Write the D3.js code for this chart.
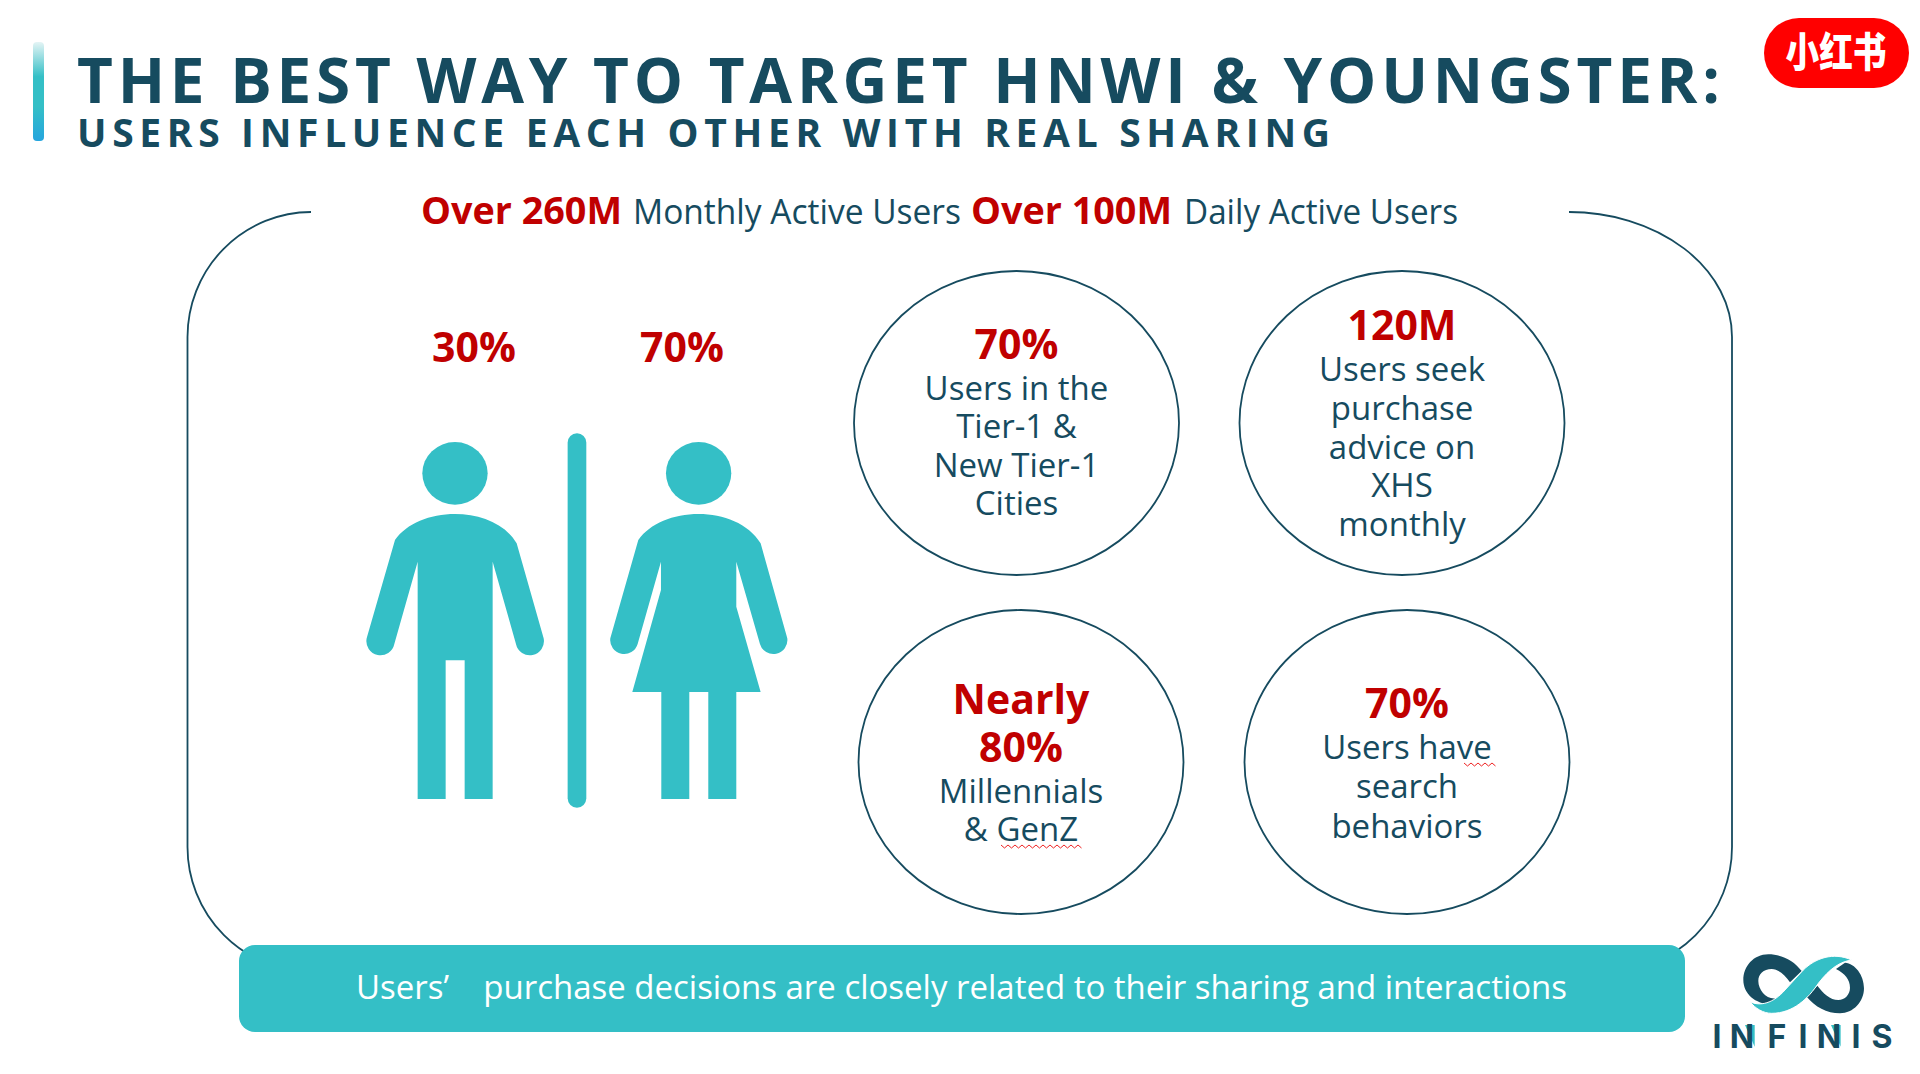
<!DOCTYPE html>
<html>
<head>
<meta charset="utf-8">
<style>
  html, body { margin: 0; padding: 0; background: #fff; }
  svg { display: block; }
  text { font-family: "Open Sans", sans-serif; }
</style>
<script src="https://cdn.jsdelivr.net/npm/d3@7"></script>
</head>
<body>
<svg width="1920" height="1074"></svg>
<script>
"use strict";

// text and figures
const titleLine = "THE BEST WAY TO TARGET HNWI & YOUNGSTER:";
const subtitleLine = "USERS INFLUENCE EACH OTHER WITH REAL SHARING";
const reachText = ["Over 260M", "Monthly Active Users", "Over 100M", "Daily Active Users"];
const genderShares = ["30%", "70%"];
const calloutLeads = [["70%"], ["120M"], ["Nearly", "80%"], ["70%"]];
const calloutBodies = [
    ["Users in the", "Tier-1 &", "New Tier-1", "Cities"],
    ["Users seek", "purchase", "advice on", "XHS", "monthly"],
    ["Millennials", "& GenZ"],
    ["Users have", "search", "behaviors"]
];
const footerText = "Users’    purchase decisions are closely related to their sharing and interactions";
const brandLetters = ["I", "N", "F", "I", "N", "I", "S"];

// layout, kept apart from the values
const teal = "#34bfc6", navy = "#164b5f", red = "#c00000";
const reachX = [[421, 622], [633, 961], [971, 1172], [1184, 1458]];
const genderX = [474, 682];
const calloutCx = [1016.5, 1402, 1021, 1407];
const calloutCy = [423, 423, 762, 762];
const calloutBaselines = [
    [359, 400, 438, 477, 515],
    [340, 381, 420, 459, 497, 536],
    [714, 762, 803, 841],
    [718, 759, 798, 838]
];
const brandX = [1717, 1742, 1777, 1803, 1829, 1856, 1882];
const squiggles = [[1001, 1084, 846], [1464, 1498, 764]];

const svg = d3.select("svg");

// accent bar
const grad = svg.append("defs").append("linearGradient")
    .attr("id", "bar").attr("x1", 0).attr("x2", 0).attr("y1", 0).attr("y2", 1);
grad.selectAll("stop")
    .data([[0, "#e4f4f5"], [0.35, teal], [0.65, teal], [1, "#25a5de"]])
    .join("stop")
    .attr("offset", d => d[0])
    .attr("stop-color", d => d[1]);
svg.append("rect")
    .attr("x", 33).attr("y", 42).attr("width", 11).attr("height", 99).attr("rx", 4)
    .attr("fill", "url(#bar)");

// titles
svg.append("text").attr("x", 77).attr("y", 103)
    .attr("font-size", 62).attr("font-weight", 700).attr("fill", navy)
    .attr("textLength", 1643)
    .text(titleLine);
svg.append("text").attr("x", 77).attr("y", 147)
    .attr("font-size", 39).attr("font-weight", 700).attr("fill", navy)
    .attr("textLength", 1253)
    .text(subtitleLine);

// reach line
svg.selectAll("text.reach")
    .data(reachText)
    .join("text")
    .attr("class", "reach")
    .attr("x", (d, i) => reachX[i][0])
    .attr("y", 224)
    .attr("font-size", (d, i) => i % 2 ? 35 : 38)
    .attr("font-weight", (d, i) => i % 2 ? 400 : 700)
    .attr("fill", (d, i) => i % 2 ? navy : red)
    .attr("textLength", (d, i) => reachX[i][1] - reachX[i][0])
    .attr("lengthAdjust", "spacingAndGlyphs")
    .text(d => d);

// rounded frame, open at the top for the reach line
svg.append("path")
    .attr("d", "M311,212 A124,125 0 0 0 187.5,337 L187.5,847 A125,125 0 0 0 312,972 L1607,972 A125,125 0 0 0 1732,847 L1732,337 A163,125 0 0 0 1569,212")
    .attr("fill", "none").attr("stroke", navy).attr("stroke-width", 1.8);

// pictograms, drawn in 3x coordinates
const icons = svg.append("g").attr("transform", "translate(340,420) scale(0.3333)").attr("fill", teal);
icons.selectAll("ellipse")
    .data([345, 1076])
    .join("ellipse")
    .attr("cx", d => d).attr("cy", 160).attr("rx", 98).attr("ry", 94);
icons.append("path").attr("d",
    "M345,282 C270,282 200,310 165,360 L80,655 A42,42 0 0 0 163,672 L233,425 L233,1137 L317,1137 L317,721 L374,721 L374,1137 L458,1137 L458,425 L528,672 A42,42 0 0 0 611,655 L530,370 C495,310 420,282 345,282 Z");
icons.append("path").attr("d",
    "M1076,282 C1000,282 930,310 895,360 L811,655 A42,42 0 0 0 893,672 L963,425 L963,510 L877,816 L964,816 L964,1137 L1048,1137 L1048,816 L1105,816 L1105,1137 L1189,1137 L1189,816 L1262,816 L1189,560 L1189,425 L1260,672 A42,42 0 0 0 1342,655 L1262,370 C1225,310 1150,282 1076,282 Z");
icons.append("rect")
    .attr("x", 683).attr("y", 40).attr("width", 56).attr("height", 1123).attr("rx", 28);

svg.selectAll("text.share")
    .data(genderShares)
    .join("text")
    .attr("class", "share")
    .attr("x", (d, i) => genderX[i])
    .attr("y", 362)
    .attr("text-anchor", "middle")
    .attr("font-size", 41).attr("font-weight", 700).attr("fill", red)
    .text(d => d);

// callout ellipses
const callouts = svg.selectAll("g.callout")
    .data(calloutLeads.map((lead, i) => ({lead, body: calloutBodies[i], i})))
    .join("g")
    .attr("class", "callout");
callouts.append("ellipse")
    .attr("cx", d => calloutCx[d.i]).attr("cy", d => calloutCy[d.i])
    .attr("rx", 162.5).attr("ry", 152)
    .attr("fill", "none").attr("stroke", navy).attr("stroke-width", 1.8);
callouts.selectAll("text")
    .data(d => d.lead.map(t => ({t, lead: true, i: d.i}))
        .concat(d.body.map(t => ({t, lead: false, i: d.i})))
        .map((o, j) => Object.assign(o, {j})))
    .join("text")
    .attr("x", d => calloutCx[d.i])
    .attr("y", d => calloutBaselines[d.i][d.j])
    .attr("text-anchor", "middle")
    .attr("font-size", d => d.lead ? 41 : 33)
    .attr("font-weight", d => d.lead ? 700 : 400)
    .attr("fill", d => d.lead ? red : navy)
    .text(d => d.t);

// spell-check squiggles left in the slide
const zig = d3.line();
svg.selectAll("path.squiggle")
    .data(squiggles)
    .join("path")
    .attr("class", "squiggle")
    .attr("d", ([x0, x1, y]) => {
        const pts = d3.range(x0, x1 + 1, 3.5).map((x, i) => [x, y + (i % 2 ? 2 : -1)]);
        return zig(pts);
    })
    .attr("fill", "none").attr("stroke", "#ee2222").attr("stroke-width", 1);

// footer band
svg.append("rect")
    .attr("x", 239).attr("y", 945).attr("width", 1446).attr("height", 87).attr("rx", 16)
    .attr("fill", teal);
svg.append("text")
    .attr("x", 356).attr("y", 999)
    .attr("font-size", 33).attr("fill", "#fff")
    .attr("xml:space", "preserve").style("white-space", "pre")
    .attr("textLength", 1211).attr("lengthAdjust", "spacingAndGlyphs")
    .text(footerText);

// red badge
svg.append("rect")
    .attr("x", 1764).attr("y", 18).attr("width", 145).attr("height", 70).attr("rx", 35)
    .attr("fill", "#ff0000");
svg.append("text")
    .attr("x", 1836).attr("y", 67)
    .attr("text-anchor", "middle")
    .attr("font-size", 41).attr("font-weight", 900).attr("fill", "#fff")
    .style("font-family", '"Noto Sans CJK SC", sans-serif')
    .attr("textLength", 101).attr("lengthAdjust", "spacingAndGlyphs")
    .text("小红书");

// company logo, drawn in 3x coordinates
const logo = svg.append("g").attr("transform", "translate(1730,945) scale(0.3333)");
logo.append("path")
    .attr("d", "M215,78 C190,45 155,28 115,28 C70,28 40,65 40,105 C40,145 75,178 125,178 L138,160 C110,165 85,135 85,108 C85,88 100,72 125,72 C145,72 165,90 180,112 Z")
    .attr("fill", navy);
logo.append("path")
    .attr("d", "M230,155 C255,185 290,205 330,205 C370,205 402,170 402,130 C402,90 375,55 345,53 L318,72 C345,85 360,105 360,128 C360,148 345,165 325,165 C300,165 280,145 262,122 Z")
    .attr("fill", navy);
logo.append("path")
    .attr("d", "M60,170 C90,185 130,175 165,135 L220,75 C255,40 310,20 365,45 C330,50 300,70 265,115 C235,160 190,205 125,205 C100,205 75,190 60,170 Z")
    .attr("fill", teal).attr("stroke", "#fff").attr("stroke-width", 3);
svg.selectAll("text.brand")
    .data(brandLetters)
    .join("text")
    .attr("class", "brand")
    .attr("x", (d, i) => brandX[i])
    .attr("y", 1048)
    .attr("text-anchor", "middle")
    .attr("font-size", 32).attr("font-weight", 700).attr("fill", navy)
    .style("font-family", "Inter, sans-serif")
    .text(d => d);
logo.selectAll("path.cut")
    .data([0, 258])
    .join("path")
    .attr("class", "cut")
    .attr("d", d => `M${45 + d},240 L${74 + d},240 L${74 + d},305 Z`)
    .attr("fill", teal);
</script>
</body>
</html>
